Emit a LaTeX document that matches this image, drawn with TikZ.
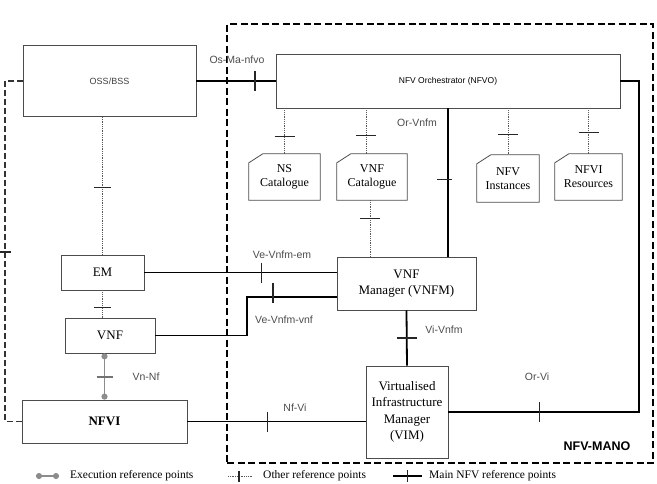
\documentclass[tikz,border=0pt]{standalone}
\usepackage{fontspec}
\setmainfont{Liberation Serif}
\setsansfont{Liberation Sans}
\usetikzlibrary{positioning, arrows.meta}
\tikzstyle{block} = [rectangle, draw=black!70, line width=0.8pt, fill=white, align=center, inner sep=0pt, font=\fontsize{13}{16.5}\selectfont]
\tikzstyle{store} = [rectangle, align=center, inner sep=0pt, font=\fontsize{12}{14}\selectfont]
\tikzstyle{mainref} = [line width=1.8pt, black]
\tikzstyle{otherref} = [line width=0.8pt, black!65, densely dotted]
\tikzstyle{execref} = [line width=1.6pt, black!45]
\tikzstyle{tick} = [draw=black!85, solid, line width=1.1pt, line cap=butt]
\tikzstyle{reflabel} = [font=\sffamily\fontsize{10.5}{12}\selectfont, text=black!70]
\tikzstyle{legend} = [anchor=west, font=\fontsize{11.5}{13}\selectfont, inner sep=0pt]
\tikzstyle{manobox} = [draw=black, line width=2.6pt, dash pattern=on 7pt off 3.5pt, inner sep=0pt]

\begin{document}
\begin{tikzpicture}[x=1pt, y=-1pt]
\useasboundingbox (0,0) rectangle (657,483);

\node (mano) [manobox, minimum width=426pt, minimum height=439pt] at (440,243.5) {};
\node (manolabel) [font=\sffamily\bfseries\fontsize{12.5}{14}\selectfont] at (597,446) {NFV-MANO};

\node (oss) [block, minimum width=173pt, minimum height=71pt, font=\sffamily\fontsize{9}{10}\selectfont, text=black!75] at (109.5,81) {OSS/BSS};
\node (nfvo) [block, minimum width=344pt, minimum height=54pt, font=\sffamily\fontsize{8.5}{10}\selectfont] at (448,81) {NFV Orchestrator (NFVO)};
\node (nscat) [store, minimum width=71pt, minimum height=46pt] at (284.5,177) {NS\\Catalogue};
\node (vnfcat) [store, minimum width=70pt, minimum height=46pt] at (372,177) {VNF\\Catalogue};
\node (nfvinst) [store, minimum width=62pt, minimum height=47pt] at (508,178.5) {NFV\\Instances};
\node (nfvires) [store, minimum width=67pt, minimum height=46pt] at (588.5,177) {NFVI\\Resources};
\node (em) [block, minimum width=83pt, minimum height=35pt] at (102.5,272.5) {EM};
\node (vnf) [block, minimum width=90pt, minimum height=35pt] at (110,335.5) {VNF};
\node (nfvi) [block, minimum width=165pt, minimum height=43pt, font=\bfseries\fontsize{13}{16}\selectfont] at (104.5,421.5) {NFVI};
\node (vnfm) [block, minimum width=139pt, minimum height=53pt] at (406.5,283.5) {VNF\\Manager (VNFM)};
\node (vim) [block, minimum width=82pt, minimum height=92pt] at (407,412) {Virtualised\\Infrastructure\\Manager\\(VIM)};

% catalogue outlines with cut corner
\foreach \s in {nscat,vnfcat,nfvinst,nfvires}
  \draw[black!70, line width=0.8pt] ([yshift=-9pt]\s.north west) -- ([xshift=14pt]\s.north west) -- (\s.north east) -- (\s.south east) -- (\s.south west) -- cycle;

\coordinate (vnfbend) at (247,297);
\coordinate (orvi) at (639,412);
\coordinate (leftbus) at (5,252);

% main reference points
\draw [mainref] (oss.east) -- coordinate[pos=.74] (tosma) (nfvo.west);
\draw [mainref] (nfvo.south) -- coordinate[pos=.48] (torvnfm) (nfvo.south |- vnfm.north);
\draw [mainref] (em.east) -- coordinate[pos=.61] (tveem) (em.east -| vnfm.west);
\draw [mainref] (vnf.east) -| (vnfbend) -- coordinate[pos=.29] (tvevnf) (vnfbend -| vnfm.west);
\draw [mainref] (vnfm.south) -- coordinate[pos=.5] (tvivnfm) (vim.north);
\draw [mainref] (nfvi.east) -- coordinate[pos=.45] (tnfvi) (nfvi.east -| vim.west);
\draw [mainref] (nfvo.east) -| (orvi) -- coordinate[pos=.52] (torvi) (vim.east);

% other reference points
\draw [otherref] (em.north |- oss.south) -- coordinate[pos=.51] (tossem) (em.north);
\draw [otherref] (em.south) -- coordinate[pos=.64] (temvnf) (em.south |- vnf.north);
\draw [otherref] (nscat.north |- nfvo.south) -- coordinate[pos=.61] (tns) (nscat.north);
\draw [otherref] ([xshift=-6pt]vnfcat.north |- nfvo.south) -- coordinate[pos=.59] (tvnfcat) ([xshift=-6pt]vnfcat.north);
\draw [otherref] ([xshift=-2pt]vnfcat.south) -- coordinate[pos=.32] (tcatvnfm) ([xshift=-2pt]vnfcat.south |- vnfm.north);
\draw [otherref] (nfvinst.north |- nfvo.south) -- coordinate[pos=.57] (tinst) (nfvinst.north);
\draw [otherref] (nfvires.north |- nfvo.south) -- coordinate[pos=.54] (tres) (nfvires.north);
\draw [black!80, line width=1.3pt, dash pattern=on 6pt off 3pt] (oss.west) -| (leftbus) |- (nfvi.west);

% execution reference point
\draw [execref, {Circle[length=6pt]}-{Circle[length=6pt]}] (nfvi.north |- vnf.south) -- coordinate[pos=.51] (tvnnf) (nfvi.north);

% ticks
\foreach \t in {tosma, tveem, tnfvi, torvi}
  \draw [tick] ([yshift=10pt]\t) -- ([yshift=-10pt]\t);
\draw [tick] ([yshift=14pt]tvevnf) -- ([yshift=-6pt]tvevnf);
\foreach \t in {tvivnfm, tns, tvnfcat, tcatvnfm, tinst, tres}
  \draw [tick] ([xshift=-10pt]\t) -- ([xshift=10pt]\t);
\foreach \t in {tossem, temvnf}
  \draw [tick] ([xshift=-8.5pt]\t) -- ([xshift=8.5pt]\t);
\draw [tick] ([xshift=-11pt]torvnfm) -- ([xshift=4pt]torvnfm);
\draw [tick] ([xshift=-5.5pt]leftbus) -- ([xshift=5.5pt]leftbus);
\draw [tick, draw=black!55] ([xshift=-8pt]tvnnf) -- ([xshift=8pt]tvnnf);

% labels
\node (lbosma) [reflabel] at (237,60) {Os-Ma-nfvo};
\node (lborvnfm) [reflabel] at (417,123) {Or-Vnfm};
\node (lbveem) [reflabel] at (282,255) {Ve-Vnfm-em};
\node (lbvevnf) [reflabel] at (284,320) {Ve-Vnfm-vnf};
\node (lbvivnfm) [reflabel] at (444,330) {Vi-Vnfm};
\node (lbvnnf) [reflabel] at (146,377) {Vn-Nf};
\node (lbnfvi) [reflabel] at (295,408) {Nf-Vi};
\node (lborvi) [reflabel] at (537,377) {Or-Vi};

% legend
\coordinate (exa) at (36,476);
\coordinate (exb) at (59,476);
\coordinate (ota) at (228,476);
\coordinate (otb) at (253,476);
\coordinate (mna) at (393,476);
\coordinate (mnb) at (422,476);
\draw [execref, {Circle[length=6pt]}-{Circle[length=6pt]}] (exa) -- (exb);
\node (lgexec) [legend] at (70,476) {Execution reference points};
\draw [otherref] (ota) -- coordinate[pos=.44] (tlgother) (otb);
\draw [tick] ([yshift=5.5pt]tlgother) -- ([yshift=-5.5pt]tlgother);
\node (lgother) [legend] at (263,476) {Other reference points};
\draw [mainref] (mna) -- coordinate[pos=.5] (tlgmain) (mnb);
\draw [tick, line width=1.4pt] ([yshift=6pt]tlgmain) -- ([yshift=-6pt]tlgmain);
\node (lgmain) [legend] at (429,476) {Main NFV reference points};

\end{tikzpicture}
\end{document}
